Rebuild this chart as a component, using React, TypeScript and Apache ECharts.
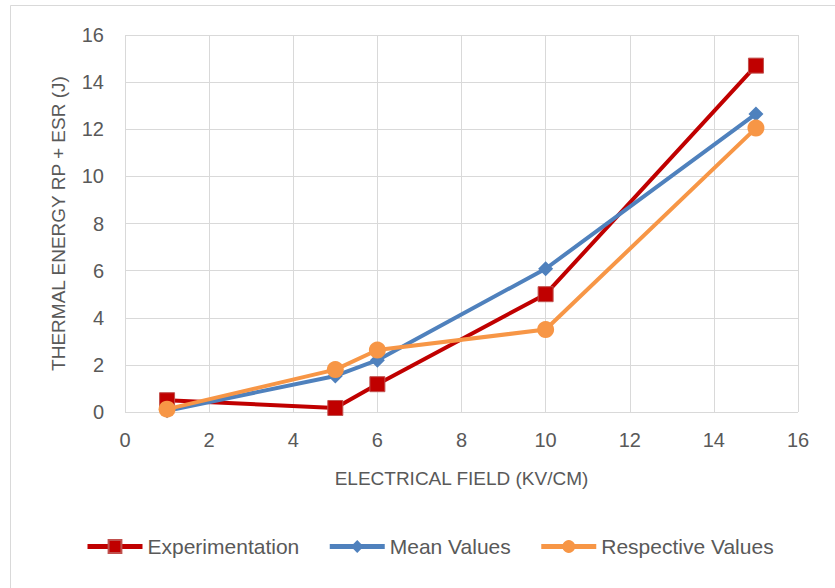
import React, { useEffect, useRef } from "react";
import * as echarts from "echarts";

const xValues = [1, 5, 6, 10, 15];
const experimentation = [0.5, 0.17, 1.18, 5.0, 14.7];
const meanValues = [0.05, 1.53, 2.2, 6.08, 12.65];
const respectiveValues = [0.12, 1.8, 2.63, 3.5, 12.05];
const seriesNames = ["Experimentation", "Mean Values", "Respective Values"];

const FONT = "'Liberation Sans', 'DejaVu Sans', sans-serif";

export default function App() {
  const ref = useRef<HTMLDivElement>(null);
  useEffect(() => {
    if (!ref.current) return;
    const chart = echarts.init(ref.current, null, { renderer: "svg" });
    const mk = (vals: number[]) => xValues.map((x, i) => [x, vals[i]]);
    chart.setOption({
      animation: false,
      backgroundColor: "#ffffff",
      textStyle: { fontFamily: FONT },
      graphic: [
        {
          type: "rect",
          shape: { x: 10.5, y: 5.5, width: 840, height: 600 },
          style: { fill: "none", stroke: "#d9d9d9", lineWidth: 1 },
          silent: true,
        },
      ],
      grid: { left: 125, right: 37, top: 35, bottom: 176, containLabel: false },
      xAxis: {
        type: "value",
        min: 0,
        max: 16,
        interval: 2,
        name: "ELECTRICAL FIELD (KV/CM)",
        nameLocation: "middle",
        nameGap: 57,
        nameTextStyle: { color: "#595959", fontSize: 19, fontFamily: FONT },
        axisLine: { show: false },
        axisTick: { show: false },
        axisLabel: { color: "#595959", fontSize: 20, margin: 18, fontFamily: FONT },
        splitLine: { show: true, lineStyle: { color: "#d9d9d9", width: 1 } },
      },
      yAxis: {
        type: "value",
        min: 0,
        max: 16,
        interval: 2,
        name: "THERMAL ENERGY RP + ESR (J)",
        nameLocation: "middle",
        nameGap: 57,
        nameTextStyle: { color: "#595959", fontSize: 19, fontFamily: FONT },
        axisLine: { show: false },
        axisTick: { show: false },
        axisLabel: { color: "#595959", fontSize: 20, margin: 21, fontFamily: FONT },
        splitLine: { show: true, lineStyle: { color: "#d9d9d9", width: 1 } },
      },
      legend: {
        bottom: 26,
        left: 80,
        itemWidth: 55,
        itemHeight: 16,
        itemGap: 28,
        lineStyle: { width: 5 },
        textStyle: { color: "#595959", fontSize: 21, fontFamily: FONT },
        data: seriesNames,
      },
      series: [
        {
          name: seriesNames[0],
          type: "line",
          data: mk(experimentation),
          symbol: "rect",
          symbolSize: 15,
          lineStyle: { color: "#c00000", width: 4 },
          itemStyle: { color: "#c00000", borderColor: "#c0504d", borderWidth: 1 },
          z: 3,
        },
        {
          name: seriesNames[1],
          type: "line",
          data: mk(meanValues),
          symbol: "diamond",
          symbolSize: 15,
          lineStyle: { color: "#4f81bd", width: 4 },
          itemStyle: { color: "#4f81bd" },
          z: 4,
        },
        {
          name: seriesNames[2],
          type: "line",
          data: mk(respectiveValues),
          symbol: "circle",
          symbolSize: 17,
          lineStyle: { color: "#f79646", width: 4 },
          itemStyle: { color: "#f79646" },
          z: 5,
        },
      ],
    });
    return () => chart.dispose();
  }, []);
  return (
    <div
      ref={ref}
      style={{ position: "fixed", left: 0, top: 0, width: 835, height: 588 }}
    />
  );
}
